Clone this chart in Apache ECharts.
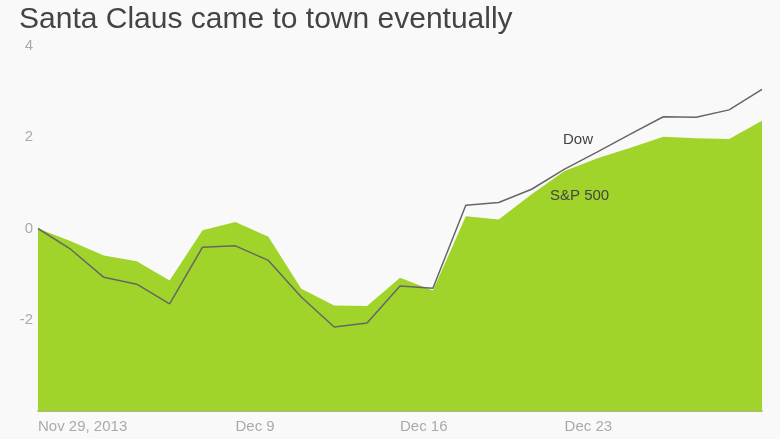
<!DOCTYPE html>
<html>
<head>
<meta charset="utf-8">
<script src="https://cdn.jsdelivr.net/npm/echarts@6/dist/echarts.min.js"></script>
<style>
  html, body { margin: 0; padding: 0; background: #f9f9f9; }
  #main { width: 780px; height: 439px; }
</style>
</head>
<body>
<div id="main"></div>
<script>
// trading days, Nov 29 2013 to Jan 2 2014
var days = ['Nov 29, 2013', 'Dec 2', 'Dec 3', 'Dec 4', 'Dec 5', 'Dec 6',
  'Dec 9', 'Dec 10', 'Dec 11', 'Dec 12', 'Dec 13',
  'Dec 16', 'Dec 17', 'Dec 18', 'Dec 19', 'Dec 20',
  'Dec 23', 'Dec 24', 'Dec 26', 'Dec 27', 'Dec 30', 'Dec 31', 'Jan 2'];
var shownLabels = [0, 6, 11, 16];

// % change since Nov 29
var sp500 = [0, -0.28, -0.59, -0.72, -1.14, -0.04, 0.14, -0.18, -1.32, -1.69, -1.70,
  -1.08, -1.36, 0.27, 0.20, 0.75, 1.26, 1.54, 1.77, 2.01, 1.98, 1.96, 2.36];
var dow = [0, -0.46, -1.07, -1.22, -1.65, -0.41, -0.38, -0.70, -1.50, -2.16, -2.07,
  -1.26, -1.31, 0.51, 0.57, 0.86, 1.30, 1.68, 2.07, 2.45, 2.44, 2.60, 3.05];

var yTicks = [-4, -2, 0, 2, 4];

var font = 'Liberation Sans, Arial, sans-serif';
var myChart = echarts.init(document.getElementById('main'));

var option = {
    backgroundColor: '#f9f9f9',
    animation: false,
    title: {
        text: 'Santa Claus came to town eventually',
        left: 14,
        top: 0,
        textStyle: {
            fontFamily: font,
            fontSize: 30,
            fontWeight: 'normal',
            color: '#444'
        }
    },
    grid: {
        left: 38,
        right: 18,
        top: 46,
        bottom: 28
    },
    xAxis: {
        type: 'category',
        data: days,
        boundaryGap: false,
        axisLine: { onZero: false, lineStyle: { color: '#8c9a78', width: 1.5 } },
        axisTick: { show: false },
        axisLabel: {
            interval: 0,
            hideOverlap: false,
            formatter: function (v, i) { return shownLabels.indexOf(i) >= 0 ? v : ''; },
            align: 'left',
            margin: 8,
            color: '#aaa',
            fontSize: 15,
            fontFamily: font
        },
        splitLine: { show: false }
    },
    yAxis: {
        type: 'value',
        min: yTicks[0],
        max: yTicks[yTicks.length - 1],
        interval: 2,
        axisLine: { show: false },
        axisTick: { show: false },
        splitLine: { show: false },
        axisLabel: {
            margin: 5,
            color: '#aaa',
            fontSize: 15,
            fontFamily: font,
            formatter: function (v) { return v === -4 ? '' : String(v); }
        }
    },
    series: [
        {
            name: 'S&P 500',
            type: 'line',
            data: sp500,
            symbol: 'none',
            lineStyle: { width: 0 },
            areaStyle: { color: '#a0d42b', opacity: 1, origin: 'start' },
            z: 1
        },
        {
            name: 'Dow',
            type: 'line',
            data: dow,
            symbol: 'none',
            lineStyle: { color: '#666', width: 1.5 },
            z: 2
        }
    ],
    graphic: [
        {
            type: 'text', left: 563, top: 132, z: 100,
            style: { text: 'Dow', fill: '#444', fontSize: 15, fontFamily: font }
        },
        {
            type: 'text', left: 550, top: 188, z: 100,
            style: { text: 'S&P 500', fill: '#444', fontSize: 15, fontFamily: font }
        }
    ]
};

myChart.setOption(option, true);
</script>
</body>
</html>
